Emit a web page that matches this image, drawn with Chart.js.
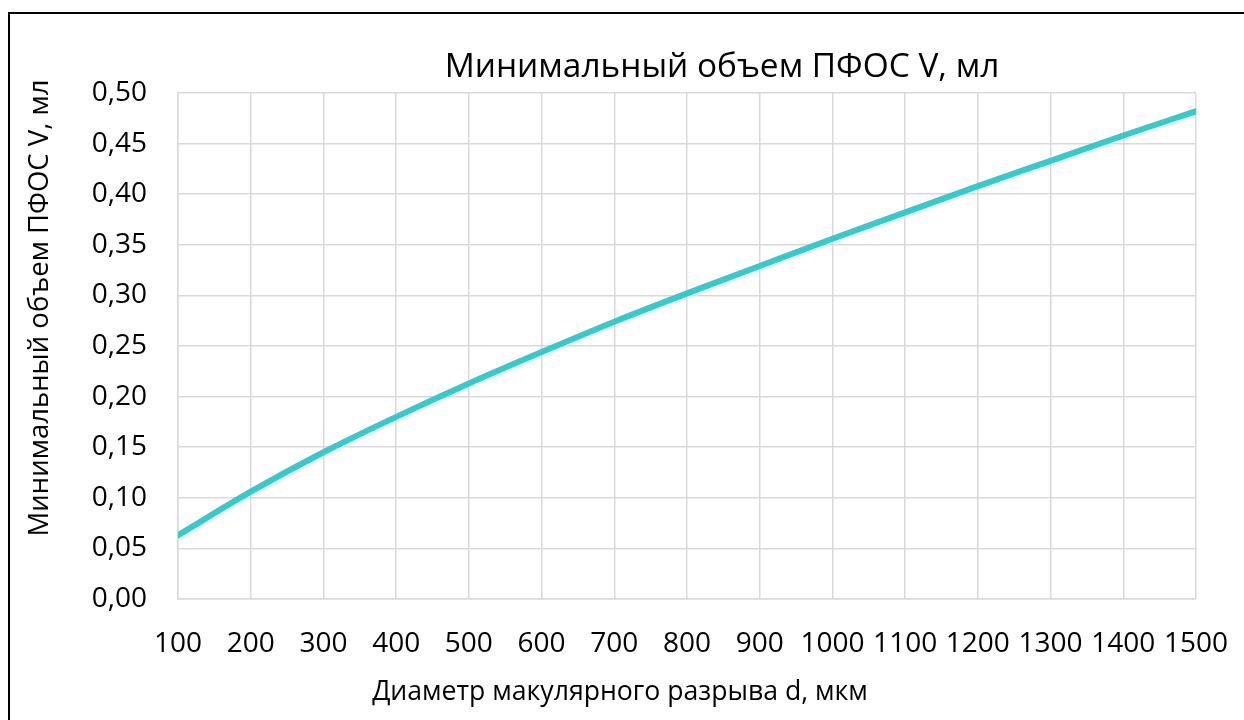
<!DOCTYPE html>
<html lang="ru">
<head>
<meta charset="utf-8">
<title>Минимальный объем ПФОС V, мл</title>
<script src="https://cdn.jsdelivr.net/npm/chart.js@4.4.1/dist/chart.umd.min.js"></script>
<style>
  html, body { margin: 0; padding: 0; background: #ffffff; overflow: hidden; }
  #wrap { position: relative; width: 1244px; height: 720px; }
  #frame {
    position: absolute; left: 8px; top: 12px; width: 1400px; height: 900px;
    border-left: 2px solid #000; border-top: 2px solid #000; box-sizing: border-box;
  }
  #chart { position: absolute; left: 0; top: 0; }
</style>
</head>
<body>
<div id="wrap">
  <div id="frame"></div>
  <canvas id="chart" width="1244" height="720"></canvas>
</div>
<script>
// Macular hole diameter d (µm) and minimal PFOS volume V (ml)
const diameters = [100, 200, 300, 400, 500, 600, 700, 800, 900, 1000, 1100, 1200, 1300, 1400, 1500];
const volumes   = [0.063, 0.106, 0.145, 0.180, 0.213, 0.244, 0.274, 0.302, 0.329, 0.356, 0.382, 0.408, 0.433, 0.458, 0.482];

const chartTitle = 'Минимальный объем ПФОС V, мл';
const xTitle = 'Диаметр макулярного разрыва d, мкм';
const yTitle = 'Минимальный объем ПФОС V, мл';

const FAMILY = '"Open Sans", "Liberation Sans", sans-serif';
const TEXT = '#000000';

// pick a font size so that a caption spans the wanted width
function fitSize(text, width) {
  const c = document.createElement('canvas').getContext('2d');
  c.font = '100px ' + FAMILY;
  return width * 100 / c.measureText(text).width;
}
const titleSize = fitSize(chartTitle, 555);
const xTitleSize = fitSize(xTitle, 496);
const yTitleSize = fitSize(yTitle, 457);

// captions placed freely around the plot
const captions = {
  id: 'captions',
  afterDraw(chart) {
    const ctx = chart.ctx;
    ctx.save();
    ctx.fillStyle = TEXT;
    ctx.textAlign = 'center';
    ctx.textBaseline = 'middle';
    ctx.font = titleSize + 'px ' + FAMILY;
    ctx.fillText(chartTitle, 722, 67);
    ctx.font = xTitleSize + 'px ' + FAMILY;
    ctx.fillText(xTitle, 620, 692);
    ctx.translate(40, 308);
    ctx.rotate(-Math.PI / 2);
    ctx.font = yTitleSize + 'px ' + FAMILY;
    ctx.fillText(yTitle, 0, 0);
    ctx.restore();
  }
};

const points = diameters.map((d, i) => ({ x: d, y: volumes[i] }));

new Chart(document.getElementById('chart'), {
  type: 'line',
  data: {
    datasets: [{
      label: chartTitle,
      data: points,
      borderColor: 'rgb(51, 204, 204)',
      borderWidth: 6,
      borderCapStyle: 'round',
      borderJoinStyle: 'round',
      pointRadius: 0,
      cubicInterpolationMode: 'monotone',
      fill: false
    }]
  },
  options: {
    responsive: false,
    animation: false,
    devicePixelRatio: 1,
    layout: { padding: { top: 93, right: 48, left: 0, bottom: 0 } },
    plugins: {
      legend: { display: false },
      title: { display: false },
      tooltip: { enabled: false }
    },
    scales: {
      x: {
        type: 'linear',
        min: 100,
        max: 1500,
        afterFit(scale) {
          scale.height = 121;
          scale.paddingLeft = 0;
          scale.paddingRight = 0;
        },
        ticks: {
          stepSize: 100,
          padding: 28,
          color: TEXT,
          font: { family: FAMILY, size: 28 },
          maxRotation: 0,
          autoSkip: false,
          callback: v => String(v)
        },
        grid: { color: '#d9d9d9', lineWidth: 1.5, drawTicks: false },
        border: { color: '#d9d9d9', width: 1.5 }
      },
      y: {
        min: 0,
        max: 0.5,
        afterFit(scale) {
          scale.width = 178;
          scale.paddingTop = 0;
          scale.paddingBottom = 0;
        },
        ticks: {
          stepSize: 0.05,
          padding: 31,
          color: TEXT,
          font: { family: FAMILY, size: 28 },
          callback: v => v.toFixed(2).replace('.', ',')
        },
        grid: { color: '#d9d9d9', lineWidth: 1.5, drawTicks: false },
        border: { color: '#d9d9d9', width: 1.5 }
      }
    }
  },
  plugins: [captions]
});
</script>
</body>
</html>
